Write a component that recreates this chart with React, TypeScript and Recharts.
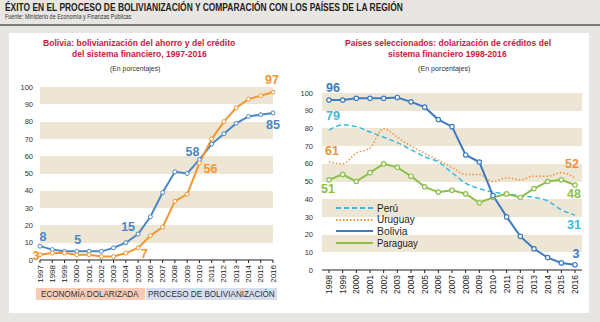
import React, { useLayoutEffect, useRef, useState } from 'react';
import {
  LineChart,
  Line,
  XAxis,
  YAxis,
  CartesianGrid,
  LabelList,
} from 'recharts';

// ---- data ----
const boliviaYears = ['1997', '1998', '1999', '2000', '2001', '2002', '2003', '2004', '2005', '2006', '2007', '2008', '2009', '2010', '2011', '2012', '2013', '2014', '2015', '2016'];
const dolarizada = [3, 4, 4, 3, 3, 2, 2, 4, 7, 14, 19, 34, 38, 56, 70, 80, 88, 93, 95, 97];
const bolivianizacion = [8, 6, 5, 5, 5, 5, 7, 10, 15, 25, 39, 51, 50, 58, 67, 73, 79, 83, 84, 85];

const regionYears = ['1998', '1999', '2000', '2001', '2002', '2003', '2004', '2005', '2006', '2007', '2008', '2009', '2010', '2011', '2012', '2013', '2014', '2015', '2016'];
const peru = [79, 82, 81, 78, 75, 72, 68, 64, 61, 55, 49, 46, 44, 43, 42, 41, 39, 34, 31];
const uruguay = [61, 60, 66, 69, 80, 75, 70, 66, 62, 58, 54, 54, 50, 52, 51, 53, 53, 55, 52];
const boliviaCredit = [96, 96, 97, 97, 97, 97.5, 95, 92, 85, 81, 65, 61, 42, 30, 19, 12, 7, 4, 3];
const paraguay = [51, 54, 50, 55, 60, 58, 53, 47, 44, 45, 43, 38, 41, 43, 41, 46, 50, 51, 48];

const yTicks = [0, 10, 20, 30, 40, 50, 60, 70, 80, 90, 100];

const leftData = boliviaYears.map((year, i) => ({ year, dolarizada: dolarizada[i], bolivianizacion: bolivianizacion[i] }));
const rightData = regionYears.map((year, i) => ({
  year,
  peru: peru[i],
  uruguay: uruguay[i],
  bolivia: boliviaCredit[i],
  paraguay: paraguay[i],
}));

// ---- styles ----
const FONT = '"Liberation Sans", Arial, sans-serif';
const BAND = '#ede6d4';
const ORANGE = '#f2962f';
const BLUE = '#4a86c6';
const BOL_BLUE = '#3d7bc0';
const CYAN = '#3cb8e2';
const URU = '#f0923a';
const GREEN = '#8cc04b';
const RED = '#c8203f';

// text squeezed horizontally to a given width (the original uses a narrow face)
function FitText({ x, cy, w, size, bold = false, color = '#222', children }: any) {
  const ref = useRef<HTMLSpanElement>(null);
  const [s, setS] = useState(1);
  useLayoutEffect(() => {
    if (ref.current && ref.current.offsetWidth) setS(w / ref.current.offsetWidth);
  }, [w]);
  const lh = Math.round(size * 1.3);
  return (
    <div
      style={{
        position: 'absolute',
        left: x,
        top: cy - lh / 2,
        height: lh,
        lineHeight: `${lh}px`,
        fontSize: size,
        fontWeight: bold ? 'bold' : 'normal',
        color,
        whiteSpace: 'nowrap',
        transform: `scaleX(${s})`,
        transformOrigin: 'left center',
      }}
    >
      <span ref={ref}>{children}</span>
    </div>
  );
}

// which points get a value label, and where it sits relative to the point
type Mark = { i: number; dx: number; dy: number };
const makeLabel = (marks: Mark[], color: string) => (props: any) => {
  const { x, y, index, value } = props;
  const m = marks.find((k) => k.i === index);
  if (!m) return null;
  return (
    <text
      x={x + m.dx}
      y={y + m.dy}
      textAnchor="middle"
      dominantBaseline="central"
      fill={color}
      fontSize={12.5}
      fontWeight="bold"
      fontFamily={FONT}
    >
      {Math.round(value)}
    </text>
  );
};

const YearTick = ({ x, y, payload, fs }: any) => (
  <text
    x={x}
    y={y}
    transform={`rotate(-90 ${x} ${y})`}
    textAnchor="end"
    dominantBaseline="central"
    fontSize={fs}
    fontFamily={FONT}
    fill="#222"
  >
    {payload.value}
  </text>
);

const legendItems = [
  { name: 'Perú', color: CYAN, dash: '5 3', w: 21 },
  { name: 'Uruguay', color: URU, dash: '1.5 2', w: 38 },
  { name: 'Bolivia', color: BOL_BLUE, dash: undefined, w: 30 },
  { name: 'Paraguay', color: GREEN, dash: undefined, w: 41 },
];

export default function App() {
  return (
    <div style={{ position: 'absolute', left: 0, top: 0, width: 600, height: 322, background: '#e8e6e3', overflow: 'hidden', fontFamily: FONT }}>
      {/* header */}
      <FitText x={5} cy={7} w={398} size={11} bold>
        ÉXITO EN EL PROCESO DE BOLIVIANIZACIÓN Y COMPARACIÓN CON LOS PAÍSES DE LA REGIÓN
      </FitText>
      <FitText x={5} cy={17} w={126} size={6.5} color="#333">
        Fuente: Ministerio de Economía y Finanzas Públicas
      </FitText>
      <div style={{ position: 'absolute', left: 0, top: 24, width: 600, height: 2, background: '#7b7b7b' }} />
      <div style={{ position: 'absolute', left: 9, top: 33, width: 580, height: 280, background: '#fff' }} />

      {/* left titles */}
      <FitText x={43} cy={43} w={192} size={8.5} bold color={RED}>Bolivia: bolivianización del ahorro y del crédito</FitText>
      <FitText x={72} cy={54} w={135} size={8.5} bold color={RED}>del sistema financiero, 1997-2016</FitText>
      <FitText x={110} cy={68} w={50} size={7} color="#333">(En porcentajes)</FitText>

      {/* right titles */}
      <FitText x={345} cy={43} w={206} size={8.5} bold color={RED}>Países seleccionados: dolarización de créditos del</FitText>
      <FitText x={388} cy={54} w={119} size={8.5} bold color={RED}>sistema financiero 1998-2016</FitText>
      <FitText x={418} cy={68} w={52} size={7} color="#333">(En porcentajes)</FitText>

      {/* left chart */}
      <div style={{ position: 'absolute', left: 0, top: 0 }}>
        <LineChart width={300} height={322} data={leftData} margin={{ top: 87, right: 27, left: 18, bottom: 40 }}>
          <CartesianGrid horizontal vertical={false} stroke="transparent" horizontalFill={[BAND, 'transparent']} />
          <XAxis
            dataKey="year"
            interval={0}
            height={22}
            tickSize={3}
            tickMargin={2}
            stroke="#222"
            tick={<YearTick fs={8} />}
          />
          <YAxis
            domain={[0, 100]}
            ticks={yTicks}
            interval={0}
            width={22}
            axisLine={false}
            tickLine={false}
            tickSize={5}
            tickMargin={2}
            tick={{ fontSize: 7.5, fill: '#333', fontFamily: FONT }}
          />
          <Line
            dataKey="bolivianizacion"
            stroke={BLUE}
            strokeWidth={2}
            dot={{ r: 2, fill: '#fff', stroke: BLUE, strokeWidth: 1 }}
            isAnimationActive={false}
          >
            <LabelList
              dataKey="bolivianizacion"
              content={makeLabel(
                [
                  { i: 0, dx: 3, dy: -9 },
                  { i: 3, dx: 1, dy: -11 },
                  { i: 8, dx: -10, dy: -7 },
                  { i: 13, dx: -7, dy: -8 },
                  { i: 19, dx: 0, dy: 12 },
                ],
                BLUE,
              )}
            />
          </Line>
          <Line
            dataKey="dolarizada"
            stroke={ORANGE}
            strokeWidth={2}
            dot={{ r: 2, fill: '#fff', stroke: ORANGE, strokeWidth: 1 }}
            isAnimationActive={false}
          >
            <LabelList
              dataKey="dolarizada"
              content={makeLabel(
                [
                  { i: 0, dx: -4, dy: 1 },
                  { i: 8, dx: 6, dy: 6 },
                  { i: 13, dx: 11, dy: 6 },
                  { i: 19, dx: -1, dy: -12 },
                ],
                ORANGE,
              )}
            />
          </Line>
        </LineChart>
      </div>

      {/* left legend boxes */}
      <div style={{ position: 'absolute', left: 36, top: 288, width: 109, height: 12, background: '#f7cbb6' }} />
      <div style={{ position: 'absolute', left: 146, top: 288, width: 131, height: 12, background: '#d6ddef' }} />
      <FitText x={41} cy={294} w={98} size={8.5} color="#333">ECONOMÍA DOLARIZADA</FitText>
      <FitText x={148} cy={294} w={127} size={8.5} color="#333">PROCESO DE BOLIVIANIZACIÓN</FitText>

      {/* right chart */}
      <div style={{ position: 'absolute', left: 300, top: 0 }}>
        <LineChart width={300} height={322} data={rightData} margin={{ top: 93, right: 18, left: 4, bottom: 28 }}>
          <CartesianGrid horizontal vertical={false} stroke="transparent" horizontalFill={[BAND, 'transparent']} />
          <XAxis
            dataKey="year"
            interval={0}
            height={24}
            padding={{ left: 7, right: 7 }}
            tickSize={3}
            tickMargin={2}
            stroke="#222"
            tick={<YearTick fs={8.5} />}
          />
          <YAxis
            domain={[0, 100]}
            ticks={yTicks}
            interval={0}
            width={18}
            axisLine={false}
            tickLine={false}
            tickSize={6}
            tickMargin={3}
            tick={{ fontSize: 7.5, fill: '#333', fontFamily: FONT }}
          />
          <Line
            dataKey="peru"
            type="monotone"
            stroke={CYAN}
            strokeWidth={1.5}
            strokeDasharray="5 3"
            dot={false}
            isAnimationActive={false}
          >
            <LabelList
              dataKey="peru"
              content={makeLabel(
                [
                  { i: 0, dx: 4, dy: -14 },
                  { i: 18, dx: -1, dy: 10 },
                ],
                CYAN,
              )}
            />
          </Line>
          <Line
            dataKey="uruguay"
            type="monotone"
            stroke={URU}
            strokeWidth={1.5}
            strokeDasharray="1.5 2"
            dot={false}
            isAnimationActive={false}
          >
            <LabelList
              dataKey="uruguay"
              content={makeLabel(
                [
                  { i: 0, dx: 3, dy: -11 },
                  { i: 18, dx: -3, dy: -14 },
                ],
                URU,
              )}
            />
          </Line>
          <Line
            dataKey="paraguay"
            stroke={GREEN}
            strokeWidth={2}
            dot={{ r: 2.2, fill: '#fff', stroke: GREEN, strokeWidth: 1.2 }}
            isAnimationActive={false}
          >
            <LabelList
              dataKey="paraguay"
              content={makeLabel(
                [
                  { i: 0, dx: -1, dy: 9 },
                  { i: 18, dx: -1, dy: 9 },
                ],
                GREEN,
              )}
            />
          </Line>
          <Line
            dataKey="bolivia"
            stroke={BOL_BLUE}
            strokeWidth={2}
            dot={{ r: 2.2, fill: '#fff', stroke: BOL_BLUE, strokeWidth: 1.2 }}
            isAnimationActive={false}
          >
            <LabelList
              dataKey="bolivia"
              content={makeLabel(
                [
                  { i: 0, dx: 4, dy: -12 },
                  { i: 18, dx: 1, dy: -11 },
                ],
                BOL_BLUE,
              )}
            />
          </Line>
        </LineChart>
      </div>

      {/* right legend */}
      {legendItems.map((it, k) => (
        <React.Fragment key={it.name}>
          <svg style={{ position: 'absolute', left: 336, top: 205 + k * 11.7 }} width={37} height={6}>
            <line x1={0} y1={3} x2={37} y2={3} stroke={it.color} strokeWidth={1.8} strokeDasharray={it.dash} />
          </svg>
          <FitText x={377} cy={208 + k * 11.7} w={it.w} size={10} color="#222">{it.name}</FitText>
        </React.Fragment>
      ))}
    </div>
  );
}
